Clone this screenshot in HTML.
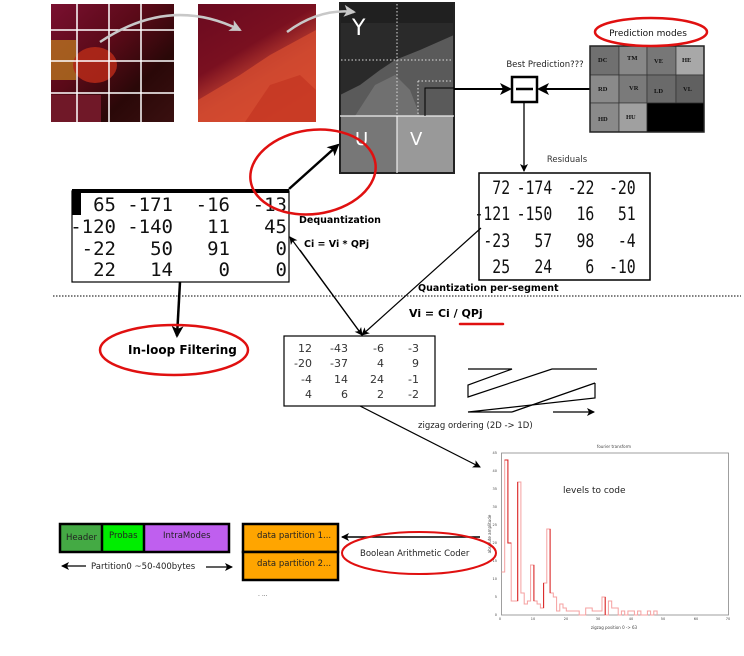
<!DOCTYPE html>
<html><head><meta charset="utf-8"><style>
html,body{margin:0;padding:0;background:#fff;}
svg{display:block;font-family:"DejaVu Sans","Liberation Sans",sans-serif;}
</style></head><body>
<svg width="744" height="656" viewBox="0 0 744 656" xmlns="http://www.w3.org/2000/svg">
<defs>
<linearGradient id="g1" x1="0" y1="0" x2="1" y2="1"><stop offset="0" stop-color="#7a1030"/><stop offset="0.4" stop-color="#5a0a18"/><stop offset="0.7" stop-color="#2a0808"/><stop offset="1" stop-color="#3a1010"/></linearGradient>
<linearGradient id="g2" x1="0" y1="0" x2="0.6" y2="1"><stop offset="0" stop-color="#6a0a20"/><stop offset="0.45" stop-color="#7a1020"/><stop offset="0.7" stop-color="#c04030"/><stop offset="1" stop-color="#e85030"/></linearGradient>
<marker id="ah" markerWidth="8" markerHeight="8" refX="7" refY="4" orient="auto" markerUnits="userSpaceOnUse"><path d="M0,0 L8,4 L0,8 L2,4z" fill="#000"/></marker>
<marker id="ahg" markerWidth="12" markerHeight="12" refX="10" refY="6" orient="auto" markerUnits="userSpaceOnUse"><path d="M0,0 L12,6 L0,12 L3,6z" fill="#c8c8c8"/></marker>
<marker id="ahb" markerWidth="12" markerHeight="12" refX="10" refY="6" orient="auto" markerUnits="userSpaceOnUse"><path d="M0,0 L12,6 L0,12 L3,6z" fill="#000"/></marker>
</defs>

<!-- image 1 -->
<rect x="51" y="4" width="123" height="118" fill="url(#g1)"/>
<rect x="51" y="40" width="25" height="40" fill="#c08020" opacity="0.7"/>
<ellipse cx="95" cy="65" rx="22" ry="18" fill="#b02818" opacity="0.9"/>
<rect x="51" y="95" width="50" height="27" fill="#701828"/>
<g stroke="#fff" stroke-width="1.5">
<line x1="77" y1="4" x2="77" y2="122"/><line x1="109" y1="4" x2="109" y2="122"/><line x1="141" y1="4" x2="141" y2="122"/>
<line x1="51" y1="30" x2="174" y2="30"/><line x1="51" y1="61" x2="174" y2="61"/><line x1="51" y1="93" x2="174" y2="93"/>
</g>
<!-- image 2 -->
<rect x="198" y="4" width="118" height="118" fill="url(#g2)"/>
<path d="M198,122 L198,100 L240,75 L270,55 L316,30 L316,122z" fill="#d24a30" opacity="0.8"/>
<path d="M245,122 L270,85 L300,75 L316,90 L316,122z" fill="#c03020" opacity="0.6"/>

<!-- Y U V block -->
<rect x="340" y="3" width="114" height="113" fill="#2a2a2a"/>
<path d="M340,116 L340,95 L360,85 L380,70 L395,60 L420,50 L454,35 L454,116z" fill="#5a5a5a"/>
<path d="M355,116 L375,85 L395,75 L410,90 L420,116z" fill="#707070"/>
<rect x="340" y="3" width="114" height="20" fill="#1a1a1a" opacity="0.6"/>
<rect x="340" y="116" width="57" height="57" fill="#777"/>
<rect x="397" y="116" width="57" height="57" fill="#999"/>
<rect x="340" y="3" width="114" height="170" fill="none" stroke="#222" stroke-width="2"/>
<line x1="340" y1="116" x2="454" y2="116" stroke="#eee" stroke-width="1.2"/>
<line x1="397" y1="116" x2="397" y2="173" stroke="#eee" stroke-width="1.2"/>
<g stroke="#ddd" stroke-dasharray="1.5,2" stroke-width="1"><line x1="397" y1="4" x2="397" y2="116"/><line x1="341" y1="60" x2="453" y2="60"/><line x1="418" y1="81" x2="453" y2="81"/><line x1="418" y1="81" x2="418" y2="116"/></g>
<text x="352" y="35" font-size="22" fill="#fff">Y</text>
<text x="355" y="145" font-size="18" fill="#fff">U</text>
<text x="410" y="145" font-size="18" fill="#fff">V</text>
<polyline points="425,116 425,88 454,88" fill="none" stroke="#000" stroke-width="1"/>

<!-- gray curves -->
<path d="M100,42 Q170,-5 240,30" fill="none" stroke="#c8c8c8" stroke-width="2.5" marker-end="url(#ahg)"/>
<path d="M287,32 Q320,8 354,12" fill="none" stroke="#c8c8c8" stroke-width="2.5" marker-end="url(#ahg)"/>

<!-- arrow to minus -->
<line x1="454" y1="89" x2="510" y2="89" stroke="#000" stroke-width="2" marker-end="url(#ahb)"/>
<rect x="512" y="77" width="25" height="25" fill="#fff" stroke="#000" stroke-width="2.5"/>
<line x1="516" y1="89" x2="533" y2="89" stroke="#000" stroke-width="2.5"/>
<line x1="590" y1="89" x2="539" y2="89" stroke="#000" stroke-width="2" marker-end="url(#ahb)"/>
<text x="545" y="67" font-size="8.5" text-anchor="middle" fill="#222">Best Prediction???</text>
<line x1="524" y1="102" x2="524" y2="171" stroke="#000" stroke-width="1.3" marker-end="url(#ah)"/>
<text x="567" y="162" font-size="8.5" text-anchor="middle" fill="#333">Residuals</text>

<!-- prediction modes -->
<g stroke="#333" stroke-width="0.7">
<rect x="590" y="46" width="29" height="29" fill="#707070"/><rect x="619" y="46" width="28" height="29" fill="#888"/><rect x="647" y="46" width="29" height="29" fill="#777"/><rect x="676" y="46" width="28" height="29" fill="#a8a8a8"/>
<rect x="590" y="75" width="29" height="28" fill="#8a8a8a"/><rect x="619" y="75" width="28" height="28" fill="#7a7a7a"/><rect x="647" y="75" width="29" height="28" fill="#6a6a6a"/><rect x="676" y="75" width="28" height="28" fill="#606060"/>
<rect x="590" y="103" width="29" height="29" fill="#8a8a8a"/><rect x="619" y="103" width="28" height="29" fill="#a0a0a0"/><rect x="647" y="103" width="57" height="29" fill="#000"/>
</g>
<rect x="590" y="46" width="114" height="86" fill="none" stroke="#222" stroke-width="1.5"/>
<g font-family="Liberation Serif,serif" font-size="6.5" font-weight="bold" fill="#111">
<text x="598" y="62">DC</text><text x="627" y="60">TM</text><text x="654" y="63">VE</text><text x="682" y="62">HE</text>
<text x="598" y="91">RD</text><text x="629" y="90">VR</text><text x="654" y="93">LD</text><text x="683" y="91">VL</text>
<text x="598" y="121">HD</text><text x="626" y="119">HU</text>
</g>
<ellipse cx="651" cy="32" rx="56" ry="14" fill="none" stroke="#e01010" stroke-width="2.5"/>
<text x="648" y="36" font-size="9" text-anchor="middle" fill="#111">Prediction modes</text>

<!-- residuals box -->
<rect x="479" y="173" width="171" height="107" fill="#fff" stroke="#000" stroke-width="1.5"/>
<g font-family="DejaVu Sans Mono,Liberation Mono,monospace" font-size="19" fill="#111" text-anchor="end">
<g transform="scale(0.78,1)">
<text y="194"><tspan x="654">72</tspan><tspan x="708">-174</tspan><tspan x="762">-22</tspan><tspan x="815">-20</tspan></text>
<text y="220"><tspan x="654">-121</tspan><tspan x="708">-150</tspan><tspan x="762">16</tspan><tspan x="815">51</tspan></text>
<text y="247"><tspan x="654">-23</tspan><tspan x="708">57</tspan><tspan x="762">98</tspan><tspan x="815">-4</tspan></text>
<text y="273"><tspan x="654">25</tspan><tspan x="708">24</tspan><tspan x="762">6</tspan><tspan x="815">-10</tspan></text>
</g></g>

<!-- left matrix -->
<rect x="72" y="191" width="217" height="91" fill="#fff" stroke="#000" stroke-width="1.2"/>
<line x1="72" y1="191" x2="289" y2="191" stroke="#000" stroke-width="4"/>
<rect x="72" y="191" width="9" height="24" fill="#000"/>
<g font-family="DejaVu Sans Mono,Liberation Mono,monospace" font-size="19" fill="#111" text-anchor="end">
<text y="211"><tspan x="116">65</tspan><tspan x="173">-171</tspan><tspan x="230">-16</tspan><tspan x="287">-13</tspan></text>
<text y="233"><tspan x="116">-120</tspan><tspan x="173">-140</tspan><tspan x="230">11</tspan><tspan x="287">45</tspan></text>
<text y="255"><tspan x="116">-22</tspan><tspan x="173">50</tspan><tspan x="230">91</tspan><tspan x="287">0</tspan></text>
<text y="276"><tspan x="116">22</tspan><tspan x="173">14</tspan><tspan x="230">0</tspan><tspan x="287">0</tspan></text>
</g>
<line x1="289" y1="189" x2="338" y2="145" stroke="#000" stroke-width="2.5" marker-end="url(#ahb)"/>
<ellipse cx="313" cy="172" rx="63" ry="42" transform="rotate(-8 313 172)" fill="none" stroke="#e01010" stroke-width="2.5"/>
<text x="299" y="223" font-size="9.5" font-weight="bold" fill="#000">Dequantization</text>
<text x="304" y="247" font-size="9.5" font-weight="bold" fill="#000">Ci = Vi * QPj</text>

<!-- in-loop -->
<line x1="180" y1="282" x2="177" y2="336" stroke="#000" stroke-width="2.5" marker-end="url(#ahb)"/>
<ellipse cx="174" cy="350" rx="74" ry="25" fill="none" stroke="#e01010" stroke-width="2.5"/>
<text x="128" y="354" font-size="12" font-weight="bold" fill="#000">In-loop Filtering</text>

<!-- dotted -->
<line x1="53" y1="296" x2="741" y2="296" stroke="#000" stroke-width="1" stroke-dasharray="1.5,1.5"/>
<text x="418" y="291" font-size="9.5" font-weight="bold" fill="#000">Quantization per-segment</text>
<text x="409" y="317" font-size="11" font-weight="bold" fill="#000">Vi = Ci / QPj</text>
<line x1="460" y1="324" x2="503" y2="324" stroke="#e01010" stroke-width="2.5" stroke-linecap="round"/>

<!-- arrows to quant box -->
<line x1="481" y1="228" x2="362" y2="335" stroke="#000" stroke-width="1.2" marker-end="url(#ah)"/>
<line x1="362" y1="335" x2="290" y2="237" stroke="#000" stroke-width="1.2" marker-end="url(#ah)"/>
<line x1="300" y1="250" x2="362" y2="335" stroke="#000" stroke-width="1.2" marker-end="url(#ah)"/>

<!-- quant box -->
<rect x="284" y="336" width="151" height="70" fill="#fff" stroke="#000" stroke-width="1.2"/>
<g font-size="11" fill="#333" text-anchor="end">
<text y="352"><tspan x="312">12</tspan><tspan x="348">-43</tspan><tspan x="384">-6</tspan><tspan x="419">-3</tspan></text>
<text y="367"><tspan x="312">-20</tspan><tspan x="348">-37</tspan><tspan x="384">4</tspan><tspan x="419">9</tspan></text>
<text y="383"><tspan x="312">-4</tspan><tspan x="348">14</tspan><tspan x="384">24</tspan><tspan x="419">-1</tspan></text>
<text y="398"><tspan x="312">4</tspan><tspan x="348">6</tspan><tspan x="384">2</tspan><tspan x="419">-2</tspan></text>
</g>
<line x1="360" y1="406" x2="480" y2="467" stroke="#000" stroke-width="1.2" marker-end="url(#ah)"/>

<!-- zigzag -->
<g fill="none" stroke="#000" stroke-width="1.2">
<polyline points="468,369 512,369 468,385 468,397 552,369 597,369"/>
<polyline points="595,383 595,398 468,412 512,412"/>
<line x1="595" y1="383" x2="512" y2="412"/>
<line x1="553" y1="412" x2="594" y2="412" marker-end="url(#ah)"/>
</g>
<text x="418" y="428" font-size="8.5" fill="#222">zigzag ordering  (2D -&gt; 1D)</text>

<!-- chart -->
<rect x="501.5" y="453" width="227" height="162" fill="#fff" stroke="#888" stroke-width="0.8"/>
<text x="614" y="448" font-size="4" text-anchor="middle" fill="#444">fourier transform</text>
<g font-size="3.5" fill="#444">
<text x="500" y="620" text-anchor="middle">0</text><text x="533" y="620" text-anchor="middle">10</text><text x="566" y="620" text-anchor="middle">20</text><text x="598" y="620" text-anchor="middle">30</text><text x="631" y="620" text-anchor="middle">40</text><text x="663" y="620" text-anchor="middle">50</text><text x="696" y="620" text-anchor="middle">60</text><text x="728" y="620" text-anchor="middle">70</text>
<text x="614" y="629" text-anchor="middle" font-size="4">zigzag position   0 -&gt; 63</text>
<text x="497" y="616" text-anchor="end">0</text><text x="497" y="598" text-anchor="end">5</text><text x="497" y="580" text-anchor="end">10</text><text x="497" y="562" text-anchor="end">15</text><text x="497" y="544" text-anchor="end">20</text><text x="497" y="526" text-anchor="end">25</text><text x="497" y="508" text-anchor="end">30</text><text x="497" y="490" text-anchor="end">35</text><text x="497" y="472" text-anchor="end">40</text><text x="497" y="454" text-anchor="end">45</text>
<text transform="translate(491,534) rotate(-90)" text-anchor="middle" font-size="4">absolute amplitude</text>
</g>
<polyline fill="none" stroke="#f5a0a0" stroke-width="1" points="501.5,572 504.7,572 504.7,460 507.9,460 507.9,543 511.2,543 511.2,601 517.7,601 517.7,482 520.9,482 520.9,593 524.2,593 524.2,604 527.4,604 527.4,601 530.6,601 530.6,565 533.9,565 533.9,601 537.1,601 537.1,604 540.4,604 540.4,608 543.6,608 543.6,583 546.8,583 546.8,529 550.1,529 550.1,593 553.3,593 553.3,597 556.6,597 556.6,611 559.8,611 559.8,604 563,604 563,608 566.3,608 566.3,611 579.2,611 579.2,615 585.7,615 585.7,608 592.2,608 592.2,611 602,611 602,597 605.2,597 605.2,615 608.4,615 608.4,601 611.7,601 611.7,608 618.2,608 618.2,615 621.4,615 621.4,611 624.7,611 624.7,615 627.9,615 627.9,611 634.4,611 634.4,615 637.6,615 637.6,611 640.9,611 640.9,615 647.4,615 647.4,611 650.6,611 650.6,615 653.8,615 653.8,611 657.1,611 657.1,615"/>
<g stroke="#d82020" stroke-width="1" fill="none">
<polyline points="504.7,460 507.9,460 507.9,543 511.2,543"/>
<line x1="517.7" y1="482" x2="517.7" y2="601"/>
<line x1="533.9" y1="565" x2="533.9" y2="601"/>
<line x1="543.6" y1="583" x2="543.6" y2="608"/>
<line x1="550.1" y1="529" x2="550.1" y2="593"/>
<line x1="605.2" y1="597" x2="605.2" y2="615"/>
</g>
<text x="563" y="493" font-size="9" fill="#222">levels to code</text>

<!-- bottom partitions -->
<rect x="60" y="524" width="42" height="28" fill="#44aa44"/>
<rect x="102" y="524" width="42" height="28" fill="#00ee00"/>
<rect x="144" y="524" width="85" height="28" fill="#bf5fef"/>
<g fill="none" stroke="#000" stroke-width="2.5"><rect x="60" y="524" width="169" height="28"/><line x1="102" y1="524" x2="102" y2="552"/><line x1="144" y1="524" x2="144" y2="552"/></g>
<g font-size="8.5" fill="#222"><text x="66" y="540">Header</text><text x="109" y="538">Probas</text><text x="163" y="538">IntraModes</text></g>
<line x1="86" y1="566" x2="62" y2="566" stroke="#000" stroke-width="1.2" marker-end="url(#ah)"/>
<line x1="206" y1="567" x2="232" y2="567" stroke="#000" stroke-width="1.2" marker-end="url(#ah)"/>
<text x="91" y="569" font-size="8.5" fill="#222">Partition0 ~50-400bytes</text>

<rect x="243" y="524" width="95" height="28" fill="#ffa500" stroke="#000" stroke-width="2.5"/>
<rect x="243" y="552" width="95" height="28" fill="#ffa500" stroke="#000" stroke-width="2.5"/>
<g font-size="8.5" fill="#222"><text x="257" y="538">data partition 1...</text><text x="257" y="566">data partition 2...</text></g>
<text x="258" y="596" font-size="6" fill="#444">.  ...</text>
<line x1="480" y1="537" x2="342" y2="537" stroke="#000" stroke-width="1.5" marker-end="url(#ah)"/>
<ellipse cx="419" cy="553" rx="77" ry="21" fill="none" stroke="#e01010" stroke-width="2"/>
<text x="360" y="556" font-size="8.5" fill="#222">Boolean Arithmetic Coder</text>
</svg>
</body></html>
